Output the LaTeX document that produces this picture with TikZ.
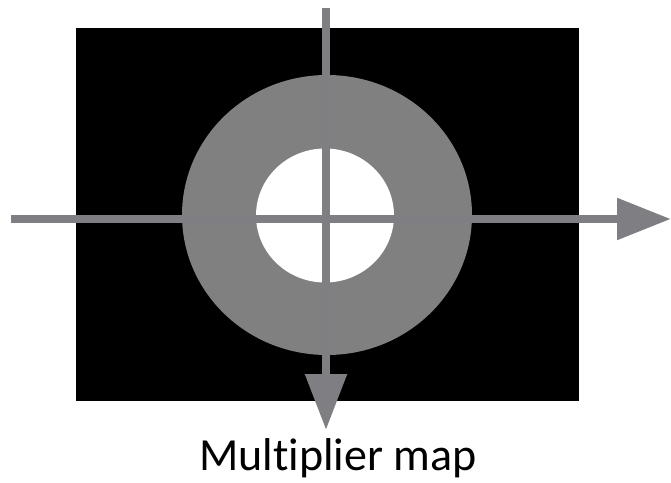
\documentclass[tikz,border=0pt]{standalone}
\usepackage{fontspec}
\setmainfont{Carlito}[Ligatures=NoCommon]
\usetikzlibrary{shapes.geometric,arrows.meta,positioning}

\begin{document}
\begin{tikzpicture}[
  x=1pt, y=-1pt,
  field/.style={fill=black, minimum width=503pt, minimum height=373pt, inner sep=0pt},
  ring/.style={ellipse, fill=ringgray, inner sep=0pt},
  axis/.style={draw=axisgray, line width=8.5pt},
  caption/.style={font=\fontsize{46}{50}\selectfont, inner sep=0pt}
]
\definecolor{ringgray}{RGB}{128,128,128}
\definecolor{axisgray}{RGB}{127,127,131}
\useasboundingbox (0,0) rectangle (671,482);

\node[field] (map) at (327.5,214.5) {};
\node[ring, minimum width=290pt, minimum height=280pt] (outer) at (327,215) {};
\node[ring, fill=white, minimum width=138pt, minimum height=134pt] (hole) at (325,215.5) {};

\coordinate (west) at (11,219);
\coordinate (east) at (671,219);
\coordinate (north) at (326,8);
\coordinate (south) at (326,430);

\draw[axis, -{Triangle[length=54pt, width=40pt]}] (west) -- (east);
\draw[axis, -{Triangle[length=56pt, width=40pt]}] (north) -- (south);

\node[caption, anchor=base] (label) at (338,470) {Multiplier map};
\end{tikzpicture}
\end{document}
